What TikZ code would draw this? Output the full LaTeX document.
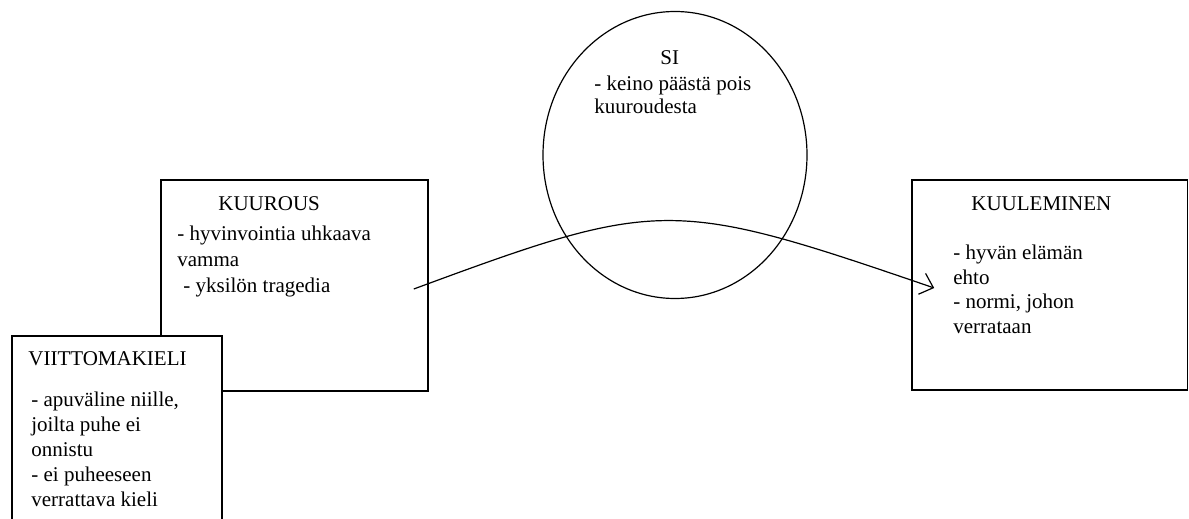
\documentclass[tikz,border=0pt]{standalone}
\usepackage{fontspec}
\setmainfont{Liberation Serif}
\usetikzlibrary{arrows.meta,shapes.geometric}
\tikzstyle{box} = [rectangle, draw, fill=white, line width=0.8pt, inner sep=0pt]
\tikzstyle{txt} = [anchor=base west, inner sep=0pt, align=left,
    font=\fontsize{10.5}{12.5}\selectfont]

\begin{document}
\begin{tikzpicture}[x=0.5pt,y=-0.5pt,>={Straight Barb[length=6pt,width=11pt]}]
  \useasboundingbox (0,0) rectangle (1189,519);

  % boxes and the circle
  \node[box, minimum width=133.5pt, minimum height=105.5pt] (kuurous) at (294.5,285.5) {};
  \node[box, minimum width=105pt, minimum height=102pt] (viittoma) at (117,438) {};
  \node[box, minimum width=137.75pt, minimum height=105pt] (kuulem) at (1049.75,285) {};
  \node[ellipse, draw, line width=0.6pt, inner sep=0pt,
        minimum width=132pt, minimum height=143.5pt] (si) at (675,155) {};

  % texts (base = last line)
  \node[txt] (kuurousT) at (218,211) {KUUROUS};
  \node[txt, font=\fontsize{10.5}{13}\selectfont] (kuurousB) at (177,292)
    {- hyvinvointia uhkaava\\vamma\\\hspace{3pt}- yksilön tragedia};
  \node[txt] (viittomaT) at (28,365) {VIITTOMAKIELI};
  \node[txt] (viittomaB) at (31,506)
    {- apuväline niille,\\joilta puhe ei\\onnistu\\- ei puheeseen\\verrattava kieli};
  \node[txt] (kuulemT) at (971,211) {KUULEMINEN};
  \node[txt, font=\fontsize{10.5}{12.2}\selectfont] (kuulemB) at (953,333)
    {- hyvän elämän\\ehto\\- normi, johon\\verrataan};
  \node[txt] (siT) at (660,65) {SI};
  \node[txt, font=\fontsize{10.5}{12}\selectfont] (siB) at (594,114)
    {- keino päästä pois\\kuuroudesta};

  % the arrow
  \coordinate (alku) at ([shift={(-15,3.5)}]kuurous.east);
  \coordinate (loppu) at ([shift={(23,3)}]kuulem.west);
  \draw[->, line width=0.6pt] (alku) .. controls (660,198) and (672,198) .. (loppu);
\end{tikzpicture}
\end{document}
